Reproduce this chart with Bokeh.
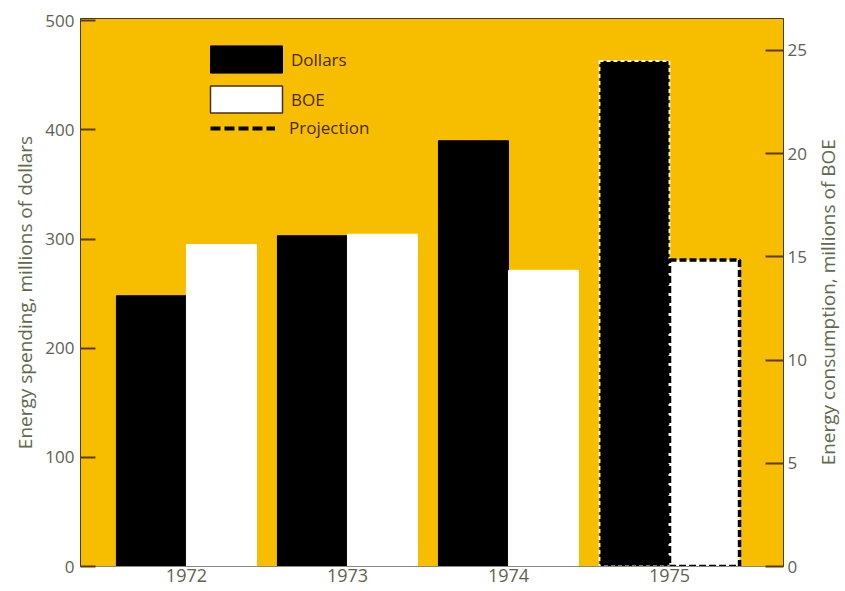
import math
from bokeh.plotting import figure
from bokeh.layouts import row
from bokeh.models import Range1d, LinearAxis, FixedTicker, Legend, LegendItem, ColumnDataSource, Label
from bokeh.transform import dodge
from bokeh.embed import file_html
from bokeh.resources import INLINE

years = ["1972", "1973", "1974", "1975"]
dollars = [248, 303, 390, 463]          # millions of dollars (left axis)
boe = [15.6, 16.1, 14.35, 14.85]        # millions of BOE (right axis)
projected = [False, False, False, True]
left_ticks = [0, 100, 200, 300, 400, 500]
right_ticks = [0, 5, 10, 15, 20, 25]

xpos = list(range(len(years)))
act = [i for i, pr in enumerate(projected) if not pr]
prj = [i for i, pr in enumerate(projected) if pr]

src_act = ColumnDataSource(dict(x=[xpos[i] for i in act], d=[dollars[i] for i in act], b=[boe[i] for i in act]))
src_prj = ColumnDataSource(dict(x=[xpos[i] for i in prj], d=[dollars[i] for i in prj], b=[boe[i] for i in prj]))

YELLOW = "#F7BE00"
TICK_TEXT = "#5d6350"
AX_TEXT = "#5e6b4e"
FONT = "Open Sans"

FW, FH = 703, 548
BL, BT, BR, BB = 80, 18, 25, 25
TOTAL_H = BT + FH + BB
X0, X1 = -0.658, 3.708

p = figure(frame_width=FW, frame_height=FH,
           x_range=Range1d(X0, X1), y_range=Range1d(0, 502),
           output_backend="svg", toolbar_location=None,
           min_border_left=BL, min_border_top=BT, min_border_right=BR, min_border_bottom=BB,
           background_fill_color=YELLOW, border_fill_color="white")
p.extra_y_ranges = {"boe": Range1d(0, 26.55)}
p.grid.visible = False
p.outline_line_color = "#4a3a20"
p.outline_line_width = 1

BW = 0.435
OFF = 0.2175

# actual bars
p.vbar(x=dodge("x", -OFF, range=p.x_range), top="d", width=BW, source=src_act,
       fill_color="black", line_color="black")
p.vbar(x=dodge("x", OFF, range=p.x_range), top="b", width=BW, source=src_act,
       fill_color="white", line_color="white", y_range_name="boe")
# projected bars
p.vbar(x=dodge("x", -OFF, range=p.x_range), top="d", width=BW, source=src_prj,
       fill_color="black", line_color="#fff6d0", line_width=2, line_dash="4 3")
p.vbar(x=dodge("x", OFF, range=p.x_range), top="b", width=BW, source=src_prj,
       fill_color="white", line_color="black", line_width=3.5, line_dash="7 3", y_range_name="boe")

# legend renderers (placed outside the visible range)
leg_d = p.vbar(x=[-10], top=[-10], width=BW, fill_color="black", line_color="black")
leg_b = p.vbar(x=[-10], top=[-10], width=BW, fill_color="white", line_color="#4a3010", line_width=1.5)
leg_p = p.line(x=[-10, -9], y=[-10, -10], line_color="black", line_width=4, line_dash="10 4")

leg_style = dict(padding=0, margin=0, background_fill_alpha=0, border_line_alpha=0,
                 label_text_font=FONT, label_text_font_size="17px", label_text_color="#4a2a0a")
legend1 = Legend(items=[LegendItem(label="Dollars", renderers=[leg_d]),
                        LegendItem(label="BOE", renderers=[leg_b])],
                 location=(121, 450), glyph_width=90, glyph_height=34, spacing=6,
                 label_standoff=0, **leg_style)
legend2 = Legend(items=[LegendItem(label="Projection", renderers=[leg_p])],
                 location=(130, 427), glyph_width=65, glyph_height=20,
                 label_standoff=14, **leg_style)
p.add_layout(legend1)
p.add_layout(legend2)

# x axis
xa = p.xaxis[0]
xa.ticker = FixedTicker(ticks=xpos)
xa.major_label_overrides = {i: y for i, y in zip(xpos, years)}
xa.major_tick_line_color = None
xa.major_tick_in = 0
xa.major_tick_out = 0
xa.minor_tick_line_color = None
xa.axis_line_color = "#8a8a80"
xa.major_label_text_font = FONT
xa.major_label_text_font_size = "18px"
xa.major_label_text_color = TICK_TEXT
xa.major_label_standoff = 2

# left axis
ya = p.yaxis[0]
ya.ticker = FixedTicker(ticks=left_ticks)
ya.major_tick_in = 15
ya.major_tick_out = 0
ya.major_tick_line_color = "#5a3a10"
ya.major_tick_line_width = 2
ya.minor_tick_line_color = None
ya.axis_line_color = "#4a3a20"
ya.major_label_text_font = FONT
ya.major_label_text_font_size = "17px"
ya.major_label_text_color = TICK_TEXT
ya.major_label_standoff = 6
ya.axis_label = "Energy spending, millions of dollars"
ya.axis_label_text_font = FONT
ya.axis_label_text_font_style = "normal"
ya.axis_label_text_font_size = "19px"
ya.axis_label_text_color = AX_TEXT
ya.axis_label_standoff = 4

# right axis
ra = LinearAxis(y_range_name="boe", ticker=FixedTicker(ticks=right_ticks))
ra.major_tick_in = 18
ra.major_tick_out = 0
ra.major_tick_line_color = "#5a3a10"
ra.major_tick_line_width = 2
ra.minor_tick_line_color = None
ra.axis_line_color = "#4a3a20"
ra.major_label_text_font = FONT
ra.major_label_text_font_size = "17px"
ra.major_label_text_color = TICK_TEXT
ra.major_label_standoff = 4
p.add_layout(ra, "right")

# narrow side panel holding the right axis title, reading bottom-to-top
W2 = 845 - (BL + FW + BR)
p2 = figure(width=W2, height=TOTAL_H, x_range=Range1d(0, W2), y_range=Range1d(0, TOTAL_H),
            output_backend="svg", toolbar_location=None, min_border=0,
            background_fill_color="white", border_fill_color="white")
p2.axis.visible = False
p2.grid.visible = False
p2.outline_line_color = None
p2.add_layout(Label(x=W2 - 19, y=TOTAL_H - 306, text="Energy consumption, millions of BOE",
                    angle=math.pi / 2, text_align="center", text_baseline="middle",
                    text_font=FONT, text_font_size="19px", text_color=AX_TEXT))

open("out.html", "w").write(file_html(row(p, p2), INLINE))
